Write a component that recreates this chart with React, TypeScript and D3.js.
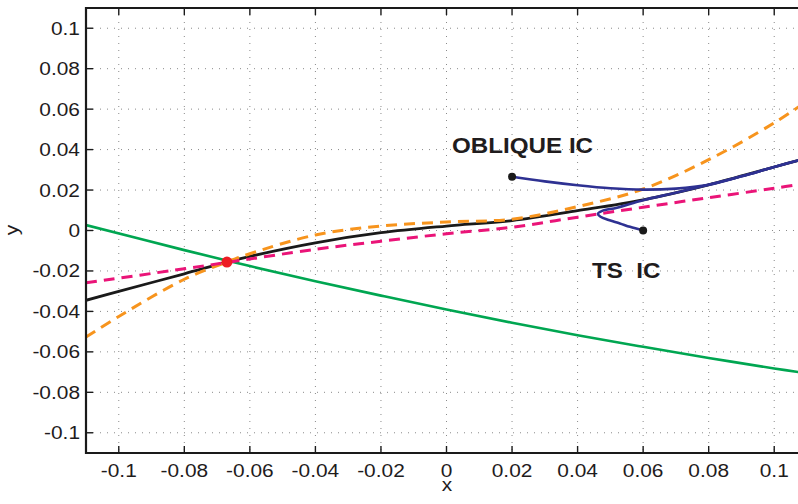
import { scaleLinear, line, curveCatmullRom } from "d3";

const width = 798;
const height = 504;
// plot box: the right side runs past the picture edge, like the reference
const PLOT = { left: 86, right: 807, top: 8, bottom: 453 };

const ticks = [-0.1, -0.08, -0.06, -0.04, -0.02, 0, 0.02, 0.04, 0.06, 0.08, 0.1];

const greenX = [-0.11, -0.08, -0.06, -0.04, -0.02, 0, 0.02, 0.04, 0.06, 0.08, 0.1, 0.11];
const greenY = [0.0027, -0.0097, -0.0176, -0.0251, -0.0322, -0.0391, -0.0456, -0.0518, -0.0575, -0.063, -0.0682, -0.0706];

const blackX = [-0.11, -0.1, -0.08, -0.067, -0.06, -0.04, -0.02, 0, 0.02, 0.04, 0.06, 0.08, 0.1, 0.11];
const blackY = [-0.0345, -0.0301, -0.0214, -0.0156, -0.0128, -0.0061, -0.0011, 0.0022, 0.0049, 0.0098, 0.0152, 0.0226, 0.0314, 0.0358];

const orangeX = [-0.11, -0.1, -0.08, -0.067, -0.06, -0.04, -0.02, 0, 0.02, 0.04, 0.06, 0.08, 0.1, 0.11];
const orangeY = [-0.0527, -0.0425, -0.0241, -0.0156, -0.0115, -0.0022, 0.0022, 0.0042, 0.0056, 0.0118, 0.0205, 0.035, 0.0532, 0.064];

const magentaX = [-0.11, -0.08, -0.067, -0.04, -0.02, 0, 0.02, 0.04, 0.06, 0.08, 0.1, 0.11];
const magentaY = [-0.0259, -0.0189, -0.0158, -0.0093, -0.0053, -0.0016, 0.0016, 0.0066, 0.0115, 0.0162, 0.0209, 0.0233];

const obliqueX = [0.02, 0.03, 0.04, 0.05, 0.06, 0.07, 0.08, 0.09, 0.1, 0.11];
const obliqueY = [0.0266, 0.0243, 0.0224, 0.0209, 0.0202, 0.0207, 0.0226, 0.0268, 0.0314, 0.0358];

const tsX = [0.06, 0.056, 0.0529, 0.0495, 0.047, 0.0462, 0.0475, 0.052, 0.06, 0.07, 0.08, 0.09, 0.1, 0.11];
const tsY = [0, 0.0018, 0.0035, 0.0052, 0.0068, 0.0083, 0.0097, 0.0113, 0.015, 0.0187, 0.0226, 0.0268, 0.0314, 0.0358];

const equilibrium = { x: -0.067, y: -0.0156 };

const FONT = "'Liberation Sans', Arial, Helvetica, sans-serif";
const TEXT = "#1f1c1d";

type Pt = [number, number];
const zip = (xs: number[], ys: number[]): Pt[] => xs.map((x, i) => [x, ys[i]]);

export default function App() {
  const xScale = scaleLinear().domain([-0.11, 0.11]).range([PLOT.left, PLOT.right]);
  const yScale = scaleLinear().domain([-0.11, 0.11]).range([PLOT.bottom, PLOT.top]);

  const path = line<Pt>()
    .x((d) => xScale(d[0]))
    .y((d) => yScale(d[1]))
    .curve(curveCatmullRom.alpha(0.5));

  const fmt = (v: number) => String(+v.toFixed(2));

  return (
    <svg width={width} height={height} style={{ position: "absolute", left: 0, top: 0 }} fontFamily={FONT}>
      <defs>
        <clipPath id="plot">
          <rect x={PLOT.left} y={PLOT.top} width={PLOT.right - PLOT.left} height={PLOT.bottom - PLOT.top} />
        </clipPath>
      </defs>
      <rect width={width} height={height} fill="#fff" />

      {/* dotted grid */}
      {ticks.map((t) => (
        <g key={"g" + t}>
          <line x1={xScale(t)} x2={xScale(t)} y1={PLOT.top} y2={PLOT.bottom}
            stroke="#8a8a8a" strokeWidth={1} strokeDasharray="1 6" />
          <line x1={PLOT.left} x2={PLOT.right} y1={yScale(t)} y2={yScale(t)}
            stroke="#8a8a8a" strokeWidth={1} strokeDasharray="1 6" />
        </g>
      ))}

      <g clipPath="url(#plot)" fill="none" strokeLinejoin="round">
        <path d={path(zip(greenX, greenY)) || ""} stroke="#00a651" strokeWidth={2.6} />
        <path d={path(zip(blackX, blackY)) || ""} stroke="#1a1a1a" strokeWidth={2.8} />
        <path d={path(zip(orangeX, orangeY)) || ""} stroke="#f7941d" strokeWidth={3} strokeDasharray="11 7" />
        <path d={path(zip(magentaX, magentaY)) || ""} stroke="#ea1478" strokeWidth={3} strokeDasharray="11 7" />
        <path d={path(zip(obliqueX, obliqueY)) || ""} stroke="#2e3192" strokeWidth={2.6} />
        <path d={path(zip(tsX, tsY)) || ""} stroke="#2e3192" strokeWidth={2.6} />
      </g>

      <circle cx={xScale(obliqueX[0])} cy={yScale(obliqueY[0])} r={4} fill="#1a1a1a" />
      <circle cx={xScale(tsX[0])} cy={yScale(tsY[0])} r={4} fill="#1a1a1a" />
      <circle cx={xScale(equilibrium.x)} cy={yScale(equilibrium.y)} r={5.5} fill="#ed1c24" />

      {/* axes box */}
      <line x1={PLOT.left} x2={PLOT.left} y1={PLOT.top - 1} y2={PLOT.bottom + 1} stroke="#1a1a1a" strokeWidth={2.2} />
      <line x1={PLOT.left - 1} x2={PLOT.right} y1={PLOT.bottom} y2={PLOT.bottom} stroke="#1a1a1a" strokeWidth={2.2} />
      <line x1={PLOT.left - 1} x2={PLOT.right} y1={PLOT.top} y2={PLOT.top} stroke="#1a1a1a" strokeWidth={2.2} />

      {ticks.map((t) => (
        <g key={"t" + t} stroke="#1a1a1a" strokeWidth={1.4}>
          <line x1={xScale(t)} x2={xScale(t)} y1={PLOT.bottom} y2={PLOT.bottom - 7} />
          <line x1={xScale(t)} x2={xScale(t)} y1={PLOT.top} y2={PLOT.top + 7} />
          <line x1={PLOT.left} x2={PLOT.left + 7} y1={yScale(t)} y2={yScale(t)} />
        </g>
      ))}

      {/* tick labels */}
      {ticks.map((t) => (
        <text key={"yl" + t} transform={`translate(80,${yScale(t) + 6.5}) scale(1.13,1)`}
          textAnchor="end" fontSize={18.5} fill={TEXT}>
          {fmt(t)}
        </text>
      ))}
      {ticks.map((t) => (
        <text key={"xl" + t} transform={`translate(${xScale(t)},477) scale(1.13,1)`}
          textAnchor="middle" fontSize={18.5} fill={TEXT}>
          {fmt(t)}
        </text>
      ))}

      <text transform="translate(447,491) scale(1.13,1)" textAnchor="middle" fontSize={18.5} fill={TEXT}>x</text>
      <text transform="translate(18,230) rotate(-90) scale(1.13,1)" textAnchor="middle" fontSize={18.5} fill={TEXT}>y</text>

      <text transform="translate(452,153) scale(1.1,1)" fontSize={22} fontWeight="bold" fill={TEXT}>OBLIQUE IC</text>
      <text transform="translate(592,278) scale(1.1,1)" fontSize={22} fontWeight="bold" fill={TEXT}
        style={{ whiteSpace: "pre" }}>
        {"TS  IC"}
      </text>
    </svg>
  );
}
